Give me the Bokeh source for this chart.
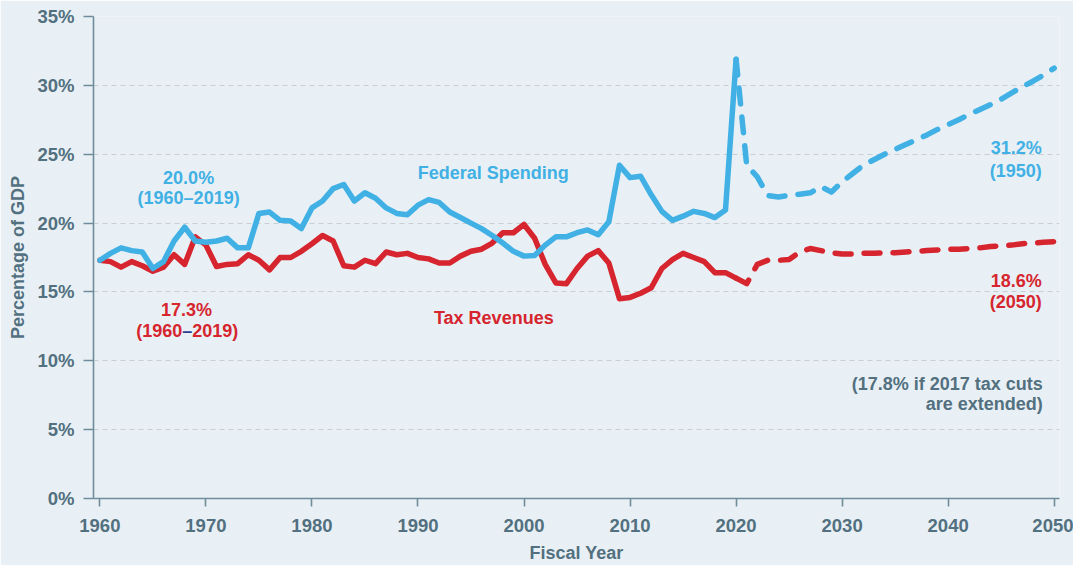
from bokeh.plotting import figure
from bokeh.models import Range1d, FixedTicker, PrintfTickFormatter, Label, ColumnDataSource
from bokeh.embed import file_html
from bokeh.resources import INLINE

# ---------------- data (percent of GDP) ----------------
years_hist = list(range(1960, 2021))
spending_hist = [17.3, 17.8, 18.2, 18.0, 17.9, 16.7, 17.2, 18.7, 19.7, 18.7,
                 18.6, 18.7, 18.9, 18.2, 18.2, 20.7, 20.8, 20.2, 20.15, 19.6,
                 21.1, 21.6, 22.5, 22.8, 21.6, 22.2, 21.8, 21.1, 20.7, 20.6,
                 21.3, 21.7, 21.5, 20.8, 20.4, 20.0, 19.6, 19.1, 18.55, 17.95,
                 17.6, 17.65, 18.4, 19.0, 19.0, 19.3, 19.5, 19.15, 20.1, 24.2,
                 23.3, 23.4, 22.05, 20.85, 20.2, 20.5, 20.85, 20.7, 20.4, 20.95,
                 31.9]
revenue_hist = [17.3, 17.2, 16.8, 17.2, 16.9, 16.5, 16.8, 17.7, 17.0, 19.0,
                18.4, 16.85, 17.0, 17.05, 17.7, 17.3, 16.6, 17.5, 17.5, 17.95,
                18.5, 19.1, 18.7, 16.9, 16.8, 17.3, 17.05, 17.9, 17.7, 17.8,
                17.5, 17.4, 17.1, 17.1, 17.6, 17.95, 18.1, 18.55, 19.3, 19.3,
                19.9, 18.9, 17.0, 15.65, 15.6, 16.7, 17.6, 18.0, 17.1, 14.5,
                14.6, 14.9, 15.3, 16.7, 17.35, 17.8, 17.5, 17.2, 16.4, 16.4,
                16.0]

years_proj = list(range(2020, 2051))
spending_proj = [31.9, 24.2, 23.35, 22.0, 21.9, 22.0, 22.1, 22.2, 22.65, 22.25,
                 23.0, 23.6, 24.2, 24.6, 25.0, 25.35, 25.7, 26.05, 26.4, 26.8,
                 27.15, 27.5, 27.9, 28.25, 28.6, 29.0, 29.45, 29.9, 30.3, 30.75,
                 31.25]
revenue_proj = [16.0, 15.6, 17.0, 17.3, 17.3, 17.35, 17.9, 18.15, 18.0, 17.85,
                17.75, 17.75, 17.8, 17.8, 17.85, 17.85, 17.9, 17.95, 18.0, 18.05,
                18.1, 18.1, 18.15, 18.2, 18.3, 18.35, 18.4, 18.5, 18.55, 18.6,
                18.65]

x_ticks = [1960, 1970, 1980, 1990, 2000, 2010, 2020, 2030, 2040, 2050]
y_ticks = [0, 5, 10, 15, 20, 25, 30, 35]

# ---------------- styles ----------------
BG = "#e9f0f5"
BLUE = "#41b0e4"
RED = "#d6252e"
SLATE = "#52707f"
AXIS = "#6f8c9a"
GRID = "#c9ced2"
DASHBLUE = "#2b3d8f"
FONT = "Liberation Sans"
FS = "18px"

p = figure(width=1073, height=565, output_backend="svg", toolbar_location=None,
           x_range=Range1d(1959.4, 2050.5), y_range=Range1d(0, 35),
           min_border_left=93, min_border_right=14, min_border_top=16,
           min_border_bottom=66)

p.background_fill_color = BG
p.border_fill_color = BG
p.outline_line_color = None

# grid
p.xgrid.grid_line_color = None
p.ygrid.grid_line_color = GRID
p.ygrid.grid_line_dash = "5 4"
p.ygrid.grid_line_width = 1.2
p.ygrid.ticker = FixedTicker(ticks=y_ticks)

# axes
p.xaxis.ticker = FixedTicker(ticks=x_ticks)
p.yaxis.ticker = FixedTicker(ticks=y_ticks)
p.yaxis.formatter = PrintfTickFormatter(format="%d%%")
for ax in (p.xaxis[0], p.yaxis[0]):
    ax.axis_line_color = AXIS
    ax.axis_line_width = 1.6
    ax.major_tick_line_color = AXIS
    ax.major_tick_line_width = 1.6
    ax.major_tick_in = 0
    ax.minor_tick_line_color = None
    ax.major_label_text_font = FONT
    ax.major_label_text_font_style = "bold"
    ax.major_label_text_font_size = "18.5px"
    ax.major_label_text_color = SLATE
    ax.axis_label_text_font = FONT
    ax.axis_label_text_font_style = "bold"
    ax.axis_label_text_font_size = FS
    ax.axis_label_text_color = SLATE

p.yaxis.major_tick_out = 10
p.yaxis.major_label_standoff = 9
p.yaxis.axis_label_standoff = 6
p.yaxis.axis_label = "Percentage of GDP"
p.xaxis.major_tick_out = 8
p.xaxis.major_label_standoff = 12
p.xaxis.axis_label_standoff = 8
p.xaxis.axis_label = "Fiscal Year"

# lines
src_h = ColumnDataSource(dict(year=years_hist, spend=spending_hist, rev=revenue_hist))
src_p = ColumnDataSource(dict(year=years_proj, spend=spending_proj, rev=revenue_proj))

p.line("year", "rev", source=src_h, line_color=RED, line_width=5.5,
       line_join="round", line_cap="round")
p.line("year", "spend", source=src_h, line_color=BLUE, line_width=5.5,
       line_join="round", line_cap="round")
p.line("year", "rev", source=src_p, line_color=RED, line_width=5.5,
       line_dash="16 13", line_join="round", line_cap="round")
p.line("year", "spend", source=src_p, line_color=BLUE, line_width=5.5,
       line_dash="16 13", line_join="round", line_cap="round")


def lab(x, y, text, color, align="center", xoff=0):
    p.add_layout(Label(x=x, y=y, text=text, text_color=color, text_font=FONT,
                       text_font_style="bold", text_font_size=FS,
                       text_align=align, text_baseline="middle", x_offset=xoff))


lab(1968.37, 23.26, "20.0%", BLUE)
lab(1968.37, 21.81, "(1960\u20132019)", BLUE)
lab(1968.18, 13.67, "17.3%", RED)
lab(1968.24, 12.14, "(1960", RED, align="right", xoff=-5)
lab(1968.24, 12.14, "\u2013", DASHBLUE)
lab(1968.24, 12.14, "2019)", RED, align="left", xoff=5)
lab(1997.1, 23.62, "Federal Spending", BLUE)
lab(1997.15, 13.12, "Tax Revenues", RED)
lab(2048.83, 25.43, "31.2%", BLUE, align="right")
lab(2048.83, 23.81, "(1950)", BLUE, align="right")
lab(2048.83, 15.77, "18.6%", RED, align="right")
lab(2048.83, 14.25, "(2050)", RED, align="right")
lab(2048.92, 8.28, "(17.8% if 2017 tax cuts", SLATE, align="right")
lab(2048.92, 6.83, "are extended)", SLATE, align="right")

open("out.html", "w").write(file_html(p, INLINE))
